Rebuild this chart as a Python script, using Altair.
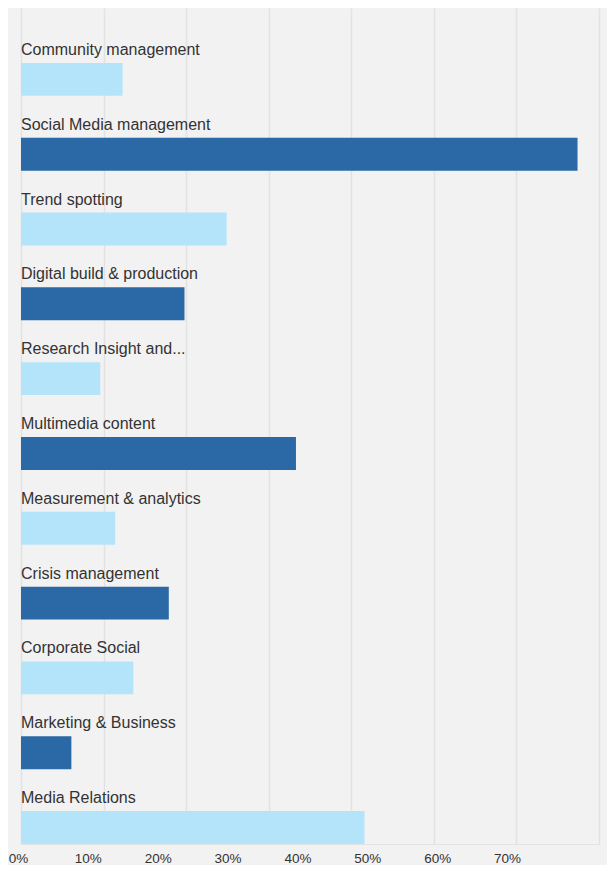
import altair as alt
import pandas as pd

categories = [
    "Community management",
    "Social Media management",
    "Trend spotting",
    "Digital build & production",
    "Research Insight and...",
    "Multimedia content",
    "Measurement & analytics",
    "Crisis management",
    "Corporate Social",
    "Marketing & Business",
    "Media Relations",
]
values = [0.123, 0.674, 0.249, 0.198, 0.096, 0.333, 0.114, 0.179, 0.136, 0.061, 0.416]
tick_values = [0, 0.1, 0.2, 0.3, 0.4, 0.5, 0.6, 0.7]

df = pd.DataFrame({
    "category": categories,
    "value": values,
    "shade": ["light" if i % 2 == 0 else "dark" for i in range(len(categories))],
})
ticks_df = pd.DataFrame({"t": tick_values})

FONT = "Liberation Sans"
TXT = "#333333"

y_enc = alt.Y("category:N", sort=categories, axis=None,
              scale=alt.Scale(paddingInner=0.56, paddingOuter=0.367, align=1))

bars = alt.Chart(df).mark_bar().encode(
    x=alt.X("value:Q",
            scale=alt.Scale(domain=[0, 0.7], nice=False),
            axis=alt.Axis(values=tick_values, labels=False, ticks=False,
                          grid=True, gridColor="#e2e2e2", gridWidth=1.5,
                          domain=True, domainColor="#e2e2e2", title=None)),
    y=y_enc,
    color=alt.Color("shade:N", legend=None,
                    scale=alt.Scale(domain=["light", "dark"], range=["#b3e4fa", "#2a69a6"])),
)

labels = alt.Chart(df).mark_text(
    align="left", baseline="alphabetic", dy=-24.5, font=FONT, fontSize=16, color=TXT
).encode(
    x=alt.value(0),
    y=y_enc,
    text="category:N",
)

axis_layer = alt.Chart(ticks_df).mark_tick(opacity=0).encode(
    x=alt.X("t:Q",
            scale=alt.Scale(domain=[0, 0.7], range=[-3, 486], nice=False),
            axis=alt.Axis(values=tick_values, format=".0%", orient="bottom",
                          grid=False, domain=False, ticks=False, labelPadding=7,
                          labelFont=FONT, labelFontSize=13.5, labelColor=TXT,
                          labelFlush=False, title=None)),
)

chart = (
    alt.layer(bars, labels, axis_layer)
    .resolve_scale(x="independent")
    .resolve_axis(x="independent")
    .properties(width=599, height=857, background="#f2f2f2",
                autosize=alt.AutoSizeParams(type="fit", contains="padding"),
                padding={"left": 0, "top": 0, "right": 8, "bottom": 0})
    .configure_view(stroke=None)
)

chart.save("out.html", embed_options={"renderer": "svg", "actions": False})
